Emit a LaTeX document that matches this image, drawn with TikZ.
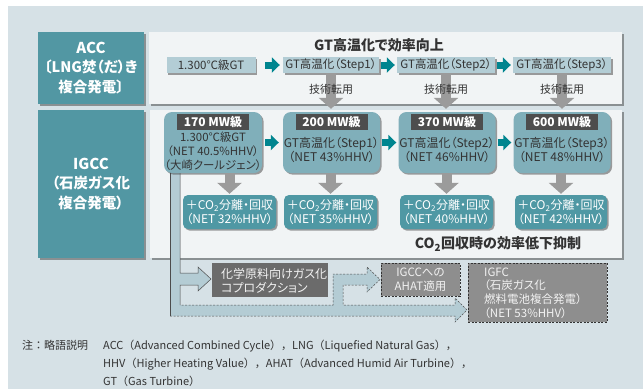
\documentclass[tikz,border=0pt]{standalone}
\usepackage{fontspec}
\setmainfont{Noto Sans CJK JP}[RawFeature=+palt]
\newfontfamily\fnfont{Noto Sans CJK JP}
\usetikzlibrary{arrows.meta,shadows,calc}
\definecolor{bgc}{HTML}{D6E1E6}
\definecolor{panelc}{HTML}{F1F4F5}
\definecolor{lblc}{HTML}{5297A3}
\definecolor{sboxc}{HTML}{B3CDD5}
\definecolor{tealc}{HTML}{00858F}
\definecolor{grayc}{HTML}{9B9B9B}
\definecolor{gboxc}{HTML}{80AFBA}
\definecolor{hdrc}{HTML}{4D4D4D}
\definecolor{cboxc}{HTML}{4F98A4}
\definecolor{bandc}{HTML}{B4CCD4}
\definecolor{chemc}{HTML}{6B6B6B}
\definecolor{futc}{HTML}{8E8E8E}
\definecolor{txt}{HTML}{333333}
\definecolor{lighttxt}{HTML}{F2F2F2}
\begin{document}
\begin{tikzpicture}[x=1pt,y=-1pt,
  every node/.style={font=\fontsize{12}{14}\selectfont, text=txt, inner sep=0pt},
  shd/.style={drop shadow={shadow xshift=1.6pt, shadow yshift=-1.6pt, opacity=0.5, fill=black!75}},
  panelbox/.style={fill=panelc, shd},
  lblbox/.style={fill=lblc, shd, text=white, font=\bfseries\fontsize{14.5}{19.5}\selectfont, align=center},
  sbox/.style={fill=sboxc, shd, minimum height=16pt, font=\fontsize{11.5}{13}\selectfont},
  tarr/.style={draw=tealc, line width=7pt, -{Triangle[width=15pt,length=8pt]}},
  garr/.style={draw=grayc, line width=10pt, -{Triangle[width=24pt,length=11pt]}},
  gbox/.style={fill=gboxc, rounded corners=8pt, shd, minimum width=97pt, minimum height=61pt},
  hdr/.style={fill=hdrc, text=white, font=\bfseries\fontsize{12}{14}\selectfont, minimum width=72pt, minimum height=16pt},
  gtext/.style={align=center, font=\fontsize{12}{14}\selectfont},
  cbox/.style={fill=cboxc, rounded corners=5pt, shd, minimum width=93pt, minimum height=34pt, text=white, align=center, font=\fontsize{12}{14}\selectfont},
  tech/.style={font=\fontsize{11}{13}\selectfont},
  futbox/.style={fill=futc, draw=black!80, line width=0.6pt, dash pattern=on 2pt off 1.5pt},
  bandsolid/.style={draw=black!70, line width=0.5pt},
  banddash/.style={draw=black!70, line width=0.5pt, dash pattern=on 2pt off 1.5pt},
  fn/.style={font=\fnfont\fontsize{11}{13}\selectfont, anchor=base west}
]
\useasboundingbox (0,0) rectangle (643,389);
\fill[bgc] (8,6) rectangle (643,389);

% panels
\node[panelbox, minimum width=473pt, minimum height=72pt] (accp) at (385.5,68) {};
\node[panelbox, minimum width=472pt, minimum height=148pt] (igccp) at (386,184) {};

% labels
\node[lblbox, minimum width=106pt, minimum height=72pt] (acc) at (91,68) {{\fontsize{15}{19.5}\selectfont ACC}\\〔LNG焚（だ）き\\複合発電〕};
\node[lblbox, minimum width=106pt, minimum height=148pt] (igcc) at (91,184) {{\fontsize{15}{19.5}\selectfont IGCC}\\（石炭ガス化\\複合発電）};

% ACC row
\node[font=\bfseries\fontsize{14}{16}\selectfont] (title) at (379,45) {GT高温化で効率向上};
\node[sbox, minimum width=89pt] (b0) at (211,65) {1.300℃級GT};
\node[sbox, minimum width=96pt] (b1) at (331,65) {GT高温化（Step1）};
\node[sbox, minimum width=98pt] (b2) at (446,65) {GT高温化（Step2）};
\node[sbox, minimum width=98pt] (b3) at (562,65) {GT高温化（Step3）};
\draw[tarr, shorten >=3pt] ($(b1.west)+(-18,0)$) -- (b1.west);
\draw[tarr, shorten <=2pt, shorten >=2pt] (b1.east) -- (b2.west);
\draw[tarr, shorten <=2pt, shorten >=2pt] (b2.east) -- (b3.west);

% band arrows (under the IGCC boxes)
\fill[bandc] (170,166) -- (170,316) -- (455,316) -- (455,322) -- (467,310) -- (455,298) -- (455,305)
  -- (343,305) -- (343,285) -- (367,285) -- (367,292) -- (380,279.5) -- (367,267) -- (367,274)
  -- (333,274) -- (333,305) -- (180,305) -- (180,285) -- (198,285) -- (198,291) -- (211,279)
  -- (198,267) -- (198,273) -- (180,273) -- (180,166) -- cycle;
\draw[bandsolid] (170,166) -- (170,316);
\draw[bandsolid] (180,166) -- (180,273) -- (198,273) -- (198,267) -- (211,279) -- (198,291) -- (198,285) -- (180,285) -- (180,305);
\draw[banddash] (170,316) -- (455,316) -- (455,322) -- (467,310) -- (455,298) -- (455,305)
  -- (343,305) -- (343,285) -- (367,285) -- (367,292) -- (380,279.5) -- (367,267) -- (367,274)
  -- (333,274) -- (333,305) -- (180,305);

% IGCC boxes
\node[gbox, minimum width=98pt] (g1) at (213,142.5) {};
\node[gbox] (g2) at (331.5,142.5) {};
\node[gbox] (g3) at (447,142.5) {};
\node[gbox] (g4) at (562,142.5) {};

\draw[garr, shorten >=3pt] (b1.south) -- (b1.south |- g2.north);
\draw[garr, shorten >=3pt] (b2.south) -- (b2.south |- g3.north);
\draw[garr, shorten >=3pt] (b3.south) -- (b3.south |- g4.north);
\node[tech] (t1) at ($(b1.south)+(0,16)$) {技術転用};
\node[tech] (t2) at ($(b2.south)+(0,16)$) {技術転用};
\node[tech] (t3) at ($(b3.south)+(0,16)$) {技術転用};

\node[hdr] (h1) at (213,122) {170 MW級};
\node[hdr] (h2) at (331.5,122) {200 MW級};
\node[hdr] (h3) at (447,122) {370 MW級};
\node[hdr] (h4) at (562,122) {600 MW級};
\node[gtext, font=\fontsize{11.4}{14}\selectfont] (x1) at (213,151) {1.300℃級GT\\（NET 40.5\%HHV）\\（大崎クールジェン）};
\node[gtext] (x2) at (331.5,150) {GT高温化（Step1）\\（NET 43\%HHV）};
\node[gtext] (x3) at (447,150) {GT高温化（Step2）\\（NET 46\%HHV）};
\node[gtext] (x4) at (562,150) {GT高温化（Step3）\\（NET 48\%HHV）};

\draw[tarr, shorten <=3pt, shorten >=4pt] (g1.east) -- (g2.west);
\draw[tarr, shorten <=2pt, shorten >=2pt] (g2.east) -- (g3.west);
\draw[tarr, shorten <=2pt, shorten >=2pt] (g3.east) -- (g4.west);

% CO2 boxes
\node[cbox] (c1) at (229.5,212) {＋CO\textsubscript{2}分離・回収\\（NET 32\%HHV）};
\node[cbox] (c2) at (330.5,212) {＋CO\textsubscript{2}分離・回収\\（NET 35\%HHV）};
\node[cbox] (c3) at (446.5,212) {＋CO\textsubscript{2}分離・回収\\（NET 40\%HHV）};
\node[cbox, minimum width=92pt] (c4) at (561,212) {＋CO\textsubscript{2}分離・回収\\（NET 42\%HHV）};
\draw[garr, shorten >=1pt] (c1.north |- g1.south) -- (c1.north);
\draw[garr, shorten >=1pt] (c2.north |- g2.south) -- (c2.north);
\draw[garr, shorten >=1pt] (c3.north |- g3.south) -- (c3.north);
\draw[garr, shorten >=1pt] (c4.north |- g4.south) -- (c4.north);
\node[font=\bfseries\fontsize{14}{16}\selectfont] (co2t) at (498,244) {CO\textsubscript{2}回収時の効率低下抑制};

% lower boxes
\node[fill=chemc, minimum width=116pt, minimum height=34pt] (chem) at (270,280) {};
\node[anchor=west, align=left, text=lighttxt, font=\fontsize{12}{14}\selectfont] (chemt) at (221,280.5) {化学原料向けガス化\\コプロダクション};
\node[futbox, minimum width=79pt, minimum height=33pt] (ahat) at (420.5,279.5) {};
\node[align=center, text=lighttxt, font=\fontsize{11.5}{14}\selectfont] (ahatt) at (420.5,280) {IGCCへの\\AHAT適用};
\node[futbox, minimum width=139pt, minimum height=59pt] (igfc) at (537.5,292.5) {};
\node[anchor=west, align=left, text=lighttxt, font=\fontsize{11.5}{13.7}\selectfont] (igfct) at (484,293) {IGFC\\（石炭ガス化\\燃料電池複合発電）\\（NET 53\%HHV）};

% footnote
\node[fn] (fn0) at (22,349.5) {注：略語説明};
\node[fn] (fn1) at (103,349.5) {ACC（Advanced Combined Cycle），LNG（Liquefied Natural Gas），};
\node[fn] (fn2) at (103,367.5) {HHV（Higher Heating Value），AHAT（Advanced Humid Air Turbine），};
\node[fn] (fn3) at (103,385.5) {GT（Gas Turbine）};
\end{tikzpicture}
\end{document}
